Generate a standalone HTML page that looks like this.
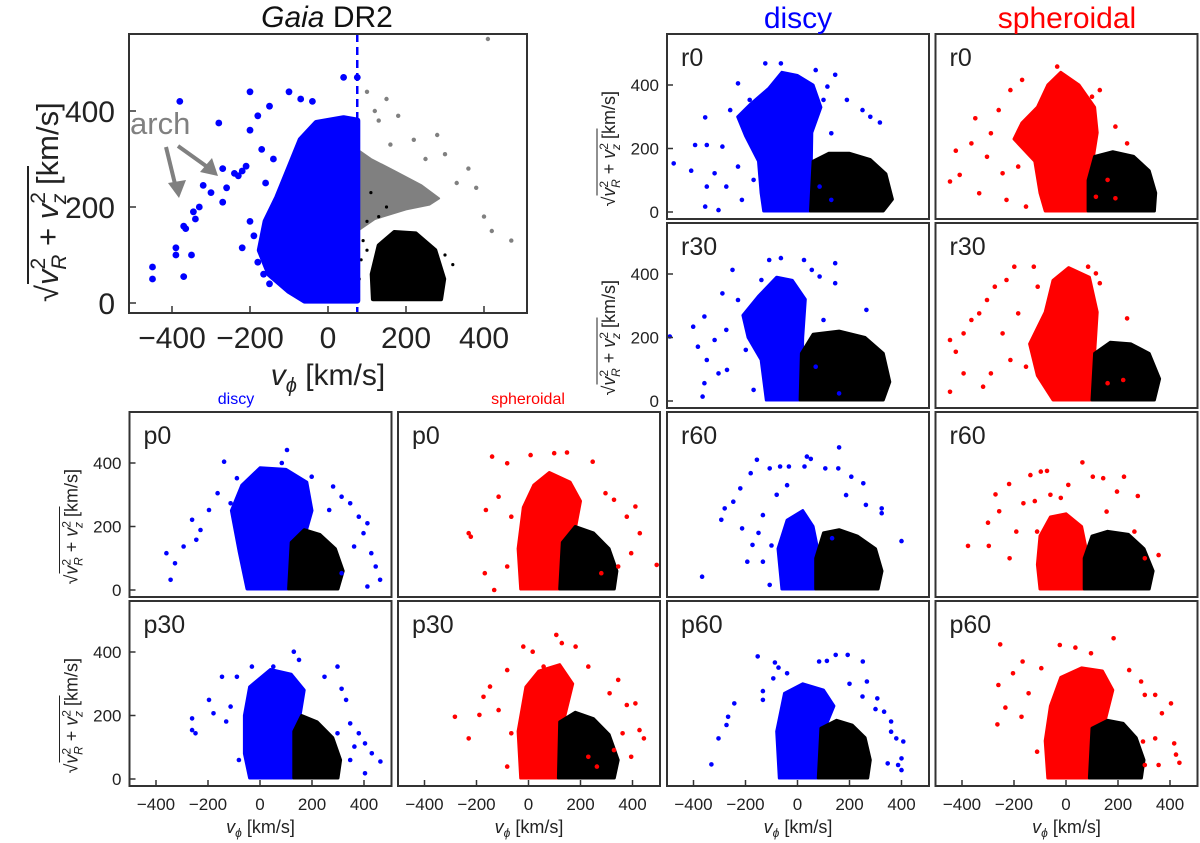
<!DOCTYPE html>
<html><head><meta charset="utf-8">
<style>
html,body{margin:0;padding:0;background:#fff;}
svg{display:block;font-family:"Liberation Sans",sans-serif;}
</style></head>
<body>
<svg id="fig" width="1200" height="843" viewBox="0 0 1200 843">
  <g id="marks"></g>
  <g id="frames"></g>
  <text x="327" y="27" font-size="30" text-anchor="middle" fill="#111"><tspan font-style="italic">Gaia</tspan> DR2</text>
  <text x="798" y="28" font-size="30" text-anchor="middle" fill="#0000ff">discy</text>
  <text x="1067" y="28" font-size="30" text-anchor="middle" fill="#ff0000">spheroidal</text>
  <text x="236" y="404" font-size="16" text-anchor="middle" fill="#0000ff">discy</text>
  <text x="528" y="404" font-size="16" text-anchor="middle" fill="#ff0000">spheroidal</text>
  <text x="130" y="134" font-size="31" fill="#808080">arch</text>
  <text x="328" y="385" font-size="30" text-anchor="middle" fill="#222"><tspan font-style="italic">v</tspan><tspan font-size="20" dy="7" font-style="italic">ϕ</tspan><tspan dy="-7"> [km/s]</tspan></text>
  <g transform="translate(58,302) rotate(-90)">
    <text x="0" y="0" font-size="31" fill="#222"><tspan>√</tspan><tspan font-style="italic">v</tspan><tspan font-size="21" dy="-13">2</tspan><tspan font-size="21" font-style="italic" dx="-12" dy="21">R</tspan><tspan dy="-8"> + </tspan><tspan font-style="italic">v</tspan><tspan font-size="21" dy="-13">2</tspan><tspan font-size="21" font-style="italic" dx="-12" dy="21">z</tspan><tspan dy="-8">  [km/s]</tspan></text>
    <line x1="18" y1="-30" x2="136" y2="-30" stroke="#222" stroke-width="2"/>
  </g>
</svg>
<script>
// ---------- data (vphi [km/s], sqrt(vR^2+vz^2) [km/s]) ----------
const xTicks = [-400, -200, 0, 200, 400];
const yTicks = [0, 200, 400];

const gaiaBlueCore = [[-60,5],[-100,25],[-150,60],[-175,110],[-160,170],[-130,220],[-100,280],[-70,340],[-30,375],[40,385],[75,380],[75,5]];
const gaiaGreyArc = [[75,150],[120,175],[200,195],[260,205],[285,218],[240,245],[170,275],[110,300],[75,320]];
const gaiaBlackCore = [[115,8],[290,8],[298,50],[275,110],[225,145],[170,148],[130,120],[112,60]];
const gaiaBlackSparse = [[110,230],[150,200],[100,170],[90,130],[85,90],[80,50],[60,10],[300,100],[320,80],[130,180],[100,110]];
const gaiaGreyPts = [[100,440],[150,425],[120,400],[130,380],[180,390],[160,330],[220,340],[280,350],[300,310],[360,280],[380,240],[400,180],[420,150],[470,130],[410,550],[330,250],[250,300]];
const gaiaBluePts = [[-450,75],[-450,50],[-390,115],[-390,100],[-370,160],[-365,155],[-345,190],[-340,175],[-330,200],[-320,245],[-300,230],[-270,210],[-260,240],[-270,280],[-240,270],[-220,275],[-210,285],[-230,265],[-280,375],[-200,440],[-170,320],[-180,390],[-150,410],[-100,440],[-70,425],[-40,420],[40,470],[75,470],[-370,55],[-380,420],[-350,100],[-200,170],[-190,140],[-180,85],[-220,115],[-160,250],[-140,300],[-200,360],[-165,60],[-150,40]];

const r0DiscyCore = [[-130,3],[50,3],[55,250],[90,330],[60,400],[0,430],[-60,440],[-110,390],[-180,340],[-230,300],[-200,240],[-150,160],[-140,60]];
const r0DiscyBlack = [[50,3],[330,3],[365,40],[340,120],[280,165],[200,185],[120,185],[60,160]];
const r0DiscyPts = [[-476,153],[-409,130],[-394,211],[-355,298],[-349,211],[-355,17],[-304,6],[-349,80],[-319,122],[-289,206],[-259,321],[-274,80],[-229,143],[-214,38],[-199,269],[-184,353],[-169,101],[-229,405],[-124,468],[-64,468],[70,447],[145,432],[100,353],[190,353],[250,321],[317,282],[280,300],[115,395],[130,248],[85,80],[130,38]];

const r0SphCore = [[-80,3],[90,3],[95,120],[120,250],[110,330],[50,400],[-20,440],[-70,400],[-110,330],[-170,280],[-200,230],[-120,160],[-100,60]];
const r0SphBlack = [[85,3],[340,3],[345,60],[320,130],[260,175],[180,190],[110,175],[85,100]];
const r0SphPts = [[-446,96],[-424,193],[-409,117],[-364,216],[-349,295],[-334,59],[-304,174],[-289,248],[-259,321],[-229,38],[-214,384],[-184,143],[-154,17],[-244,122],[-169,416],[-34,458],[100,363],[130,384],[190,269],[235,216],[115,48],[160,101],[190,43]];

const r30DiscyCore = [[-120,3],[15,3],[20,200],[30,320],[-20,380],[-80,390],[-150,330],[-210,270],[-190,200],[-140,130]];
const r30DiscyBlack = [[10,3],[330,3],[355,60],[330,150],[260,200],[160,220],[60,210],[15,150]];
const r30DiscyPts = [[-491,203],[-401,234],[-383,171],[-365,14],[-358,56],[-349,129],[-358,266],[-319,192],[-289,339],[-304,87],[-274,224],[-271,98],[-250,413],[-229,318],[-199,161],[-169,255],[-169,35],[-139,381],[-109,444],[-64,450],[25,444],[55,413],[85,392],[145,434],[145,371],[265,287],[100,255],[70,108],[160,24]];

const r30SphCore = [[-50,3],[100,3],[110,150],[120,280],[90,390],[10,420],[-50,380],[-80,280],[-140,180],[-110,80]];
const r30SphBlack = [[100,3],[340,3],[360,70],[320,150],[250,180],[170,185],[110,150]];
const r30SphPts = [[-446,29],[-446,192],[-424,155],[-394,213],[-394,87],[-364,255],[-334,276],[-319,45],[-304,318],[-289,87],[-274,360],[-244,213],[-229,381],[-214,129],[-199,423],[-184,276],[-154,108],[-124,423],[-109,360],[85,423],[115,402],[130,371],[235,260],[220,66],[160,56],[70,150]];

const p0DiscyCore = [[-50,3],[160,3],[165,150],[200,250],[180,340],[100,380],[0,385],[-70,330],[-110,250],[-80,120]];
const p0DiscyBlack = [[110,3],[300,3],[320,60],[290,130],[230,175],[170,190],[120,150]];
const p0DiscyPts = [[-360,116],[-344,32],[-327,84],[-294,137],[-245,158],[-229,189],[-261,221],[-196,252],[-138,404],[-163,305],[-89,352],[-113,273],[-81,179],[-48,95],[104,441],[84,400],[199,357],[281,326],[314,294],[347,273],[413,210],[398,179],[428,116],[445,74],[462,32],[413,11],[362,137],[380,231],[266,252],[314,53]];

const p0SphCore = [[-30,3],[140,3],[170,150],[200,280],[160,340],[80,370],[20,330],[-20,260],[-40,130]];
const p0SphBlack = [[120,3],[330,3],[340,60],[310,130],[250,180],[180,200],[130,150]];
const p0SphPts = [[-230,179],[-222,168],[-168,53],[-164,252],[-132,0],[-140,420],[-115,294],[-82,399],[-66,231],[-82,74],[8,425],[99,431],[148,433],[247,404],[296,305],[329,284],[378,231],[428,179],[411,263],[395,116],[345,74],[493,79],[280,53]];

const p30DiscyCore = [[-40,3],[140,3],[150,180],[170,280],[120,330],[40,345],[-40,290],[-60,200],[-60,80]];
const p30DiscyBlack = [[130,3],[300,3],[310,60],[280,130],[220,180],[160,200],[130,150]];
const p30DiscyPts = [[-261,191],[-261,154],[-248,144],[-196,249],[-179,207],[-146,322],[-130,181],[-89,322],[-113,228],[-81,60],[-31,354],[51,354],[130,401],[150,375],[248,322],[298,354],[314,284],[331,249],[347,175],[380,144],[404,112],[430,81],[463,55],[404,18],[347,60],[363,102],[298,144]];

const p30SphCore = [[-30,3],[115,3],[140,200],[170,300],[120,360],[40,340],[-10,290],[-40,150]];
const p30SphBlack = [[115,3],[330,3],[345,60],[310,140],[250,190],[180,210],[120,180]];
const p30SphPts = [[-283,196],[-230,128],[-189,202],[-173,259],[-148,291],[-115,217],[-82,343],[-66,144],[-82,39],[-20,417],[16,401],[58,354],[107,454],[128,428],[181,417],[230,354],[345,312],[312,270],[378,233],[411,238],[362,144],[427,154],[444,128],[395,70],[329,91],[263,39],[230,70]];

const r60DiscyCore = [[-60,3],[80,3],[85,100],[60,200],[20,250],[-40,220],[-75,130]];
const r60DiscyBlack = [[70,3],[310,3],[325,60],[300,130],[230,170],[160,190],[100,180],[70,100]];
const r60DiscyPts = [[-367,42],[-293,221],[-280,257],[-247,278],[-220,320],[-180,368],[-156,410],[-193,89],[-173,142],[-133,236],[-107,383],[-67,389],[-33,389],[36,420],[51,413],[27,389],[107,383],[157,383],[160,449],[207,357],[253,336],[263,268],[324,257],[324,242],[400,154],[187,299],[-107,16],[-213,194],[-133,89],[133,163],[-80,300],[-40,330],[-150,180],[-100,140]];

const r60SphCore = [[-100,3],[75,3],[80,120],[60,200],[0,240],[-60,230],[-100,170],[-110,80]];
const r60SphBlack = [[70,3],[320,3],[335,60],[300,130],[240,175],[160,185],[100,170],[70,100]];
const r60SphPts = [[-377,139],[-300,212],[-297,139],[-271,301],[-257,248],[-219,334],[-217,100],[-191,184],[-164,273],[-137,362],[-97,373],[-73,375],[-111,184],[9,331],[63,402],[103,357],[143,352],[223,357],[276,296],[196,310],[263,184],[356,110],[303,100],[156,247],[-120,280],[-60,300],[-20,290]];

const p60DiscyCore = [[-70,3],[90,3],[100,150],[140,230],[100,280],[20,300],[-50,270],[-80,150]];
const p60DiscyBlack = [[80,3],[270,3],[280,60],[260,130],[210,170],[150,185],[90,160]];
const p60DiscyPts = [[-331,46],[-304,128],[-273,170],[-267,196],[-243,238],[-153,386],[-133,277],[-133,249],[-93,317],[-87,367],[-73,351],[-40,333],[83,370],[113,372],[147,391],[193,391],[251,370],[267,307],[307,254],[333,212],[360,181],[380,128],[407,118],[400,65],[400,28],[387,44],[347,49],[360,149],[200,300],[250,260],[300,220]];

const p60SphCore = [[-70,3],[130,3],[140,150],[180,280],[140,340],[60,350],[-20,320],[-60,230],[-80,120]];
const p60SphBlack = [[90,3],[290,3],[300,60],[270,130],[220,175],[160,185],[100,160]];
const p60SphPts = [[-264,172],[-253,424],[-260,296],[-233,225],[-204,333],[-171,196],[-167,370],[-144,270],[-111,86],[-95,349],[-24,422],[36,414],[96,396],[183,443],[243,343],[289,307],[303,265],[343,265],[369,207],[404,238],[343,128],[356,44],[416,112],[423,77],[436,51],[296,118],[303,44]];

// ---------- drawing ----------
const NS = 'http://www.w3.org/2000/svg';
const svg = document.getElementById('fig');
const marks = document.getElementById('marks');
const frames = document.getElementById('frames');
function mk(tag, attrs, parent){ const e=document.createElementNS(NS,tag); for(const k in attrs) e.setAttribute(k,attrs[k]); parent.appendChild(e); return e; }

const BG = {x0:129, x1:527, y0:34, y1:313};
const bx = v => 328 + v*0.39;
const by = v => 303 - v*0.48;

const defs = mk('defs',{},svg);
const cp = mk('clipPath',{id:'clip-big'},defs);
mk('rect',{x:BG.x0,y:BG.y0,width:BG.x1-BG.x0,height:BG.y1-BG.y0},cp);

const gBig = mk('g',{'clip-path':'url(#clip-big)'},marks);



function poly(arr, fx, fy, color, g, sw){
  const ptsStr = arr.map(d=>fx(d[0]).toFixed(1)+','+fy(d[1]).toFixed(1)).join(' ');
  return mk('polygon',{points:ptsStr,fill:color,stroke:color,'stroke-width':sw,'stroke-linejoin':'round'},g);
}
function pts(arr, fx, fy, color, r, g){
  arr.forEach(d=>{
    const c = mk('circle',{cx:fx(d[0]).toFixed(1),cy:fy(d[1]).toFixed(1),r:r,fill:color},g);
    
    
  });
}
let e;
e = poly(gaiaGreyArc,bx,by,'#808080',gBig,2);


e = poly(gaiaBlackCore,bx,by,'#000',gBig,4);


pts(gaiaBlackSparse,bx,by,'#000',1.6,gBig);
pts(gaiaGreyPts,bx,by,'#808080',2.2,gBig);
e = poly(gaiaBlueCore,bx,by,'#0000ff',gBig,6);


pts(gaiaBluePts,bx,by,'#0000ff',3.4,gBig);

e = mk('line',{x1:bx(75),x2:bx(75),y1:BG.y0,y2:BG.y1,stroke:'#0000ff','stroke-width':2.5,'stroke-dasharray':'8,5'},marks);



const arr = mk('g',{stroke:'#808080','stroke-width':4,fill:'#808080'},marks);


mk('line',{x1:166,y1:147,x2:175,y2:184},arr);
mk('polygon',{points:'168,183 186,180 179,198',stroke:'none'},arr);
mk('line',{x1:178,y1:146,x2:206,y2:166},arr);
mk('polygon',{points:'200,172 212,158 218,176',stroke:'none'},arr);

e = mk('rect',{x:BG.x0,y:BG.y0,width:BG.x1-BG.x0,height:BG.y1-BG.y0,fill:'none',stroke:'#333','stroke-width':2},frames);


xTicks.forEach(t=>{
  mk('line',{x1:bx(t),x2:bx(t),y1:BG.y1,y2:BG.y1-7,stroke:'#333','stroke-width':1.5},frames);
  const tx = mk('text',{x:bx(t),y:348,'font-size':30,'text-anchor':'middle',fill:'#222'},frames);
  tx.textContent = t<0 ? '\u2212'+(-t) : String(t);
  
  
});
yTicks.forEach(t=>{
  mk('line',{x1:BG.x0,x2:BG.x0+7,y1:by(t),y2:by(t),stroke:'#333','stroke-width':1.5},frames);
  const tx = mk('text',{x:115,y:by(t)+11,'font-size':30,'text-anchor':'end',fill:'#222'},frames);
  tx.textContent = String(t);
  
  
});

const colL = [129.5, 398, 667, 935.5];
const rowT = [34, 223, 412, 601];
const PW = 262, PH = 185;
const panels = [
  {r:0,c:2,label:'r0',core:r0DiscyCore,black:r0DiscyBlack,pts:r0DiscyPts,col:'#0000ff'},
  {r:0,c:3,label:'r0',core:r0SphCore,black:r0SphBlack,pts:r0SphPts,col:'#ff0000'},
  {r:1,c:2,label:'r30',core:r30DiscyCore,black:r30DiscyBlack,pts:r30DiscyPts,col:'#0000ff'},
  {r:1,c:3,label:'r30',core:r30SphCore,black:r30SphBlack,pts:r30SphPts,col:'#ff0000'},
  {r:2,c:0,label:'p0',core:p0DiscyCore,black:p0DiscyBlack,pts:p0DiscyPts,col:'#0000ff'},
  {r:2,c:1,label:'p0',core:p0SphCore,black:p0SphBlack,pts:p0SphPts,col:'#ff0000'},
  {r:2,c:2,label:'r60',core:r60DiscyCore,black:r60DiscyBlack,pts:r60DiscyPts,col:'#0000ff'},
  {r:2,c:3,label:'r60',core:r60SphCore,black:r60SphBlack,pts:r60SphPts,col:'#ff0000'},
  {r:3,c:0,label:'p30',core:p30DiscyCore,black:p30DiscyBlack,pts:p30DiscyPts,col:'#0000ff'},
  {r:3,c:1,label:'p30',core:p30SphCore,black:p30SphBlack,pts:p30SphPts,col:'#ff0000'},
  {r:3,c:2,label:'p60',core:p60DiscyCore,black:p60DiscyBlack,pts:p60DiscyPts,col:'#0000ff'},
  {r:3,c:3,label:'p60',core:p60SphCore,black:p60SphBlack,pts:p60SphPts,col:'#ff0000'}
];
const yLabelPanels = [[2,0],[3,0],[0,2],[1,2]];
panels.forEach((p,i)=>{
  const L = colL[p.c], T = rowT[p.r];
  const fx = v => L + 130.5 + v*0.26;
  const fy = v => T + 178 - v*0.3175;
  const id = 'clip-'+i;
  const c = mk('clipPath',{id:id},defs);
  mk('rect',{x:L,y:T,width:PW,height:PH},c);
  const g = mk('g',{'clip-path':'url(#'+id+')'},marks);
  
  
  let q = poly(p.core,fx,fy,p.col,g,3);
  
  
  q = poly(p.black,fx,fy,'#000',g,3);
  
  
  pts(p.pts,fx,fy,p.col,2.3,g);
  const f = mk('rect',{x:L,y:T,width:PW,height:PH,fill:'none',stroke:'#333','stroke-width':2},frames);
  
  
  const lt = mk('text',{x:L+14,y:T+32,'font-size':25,fill:'#222'},frames);
  lt.textContent = p.label;
  
  
  if(p.r===3){
    xTicks.forEach(t=>{
      mk('line',{x1:fx(t),x2:fx(t),y1:T+PH,y2:T+PH-6,stroke:'#333','stroke-width':1.5},frames);
      const tx = mk('text',{x:fx(t),y:T+PH+24,'font-size':17,'text-anchor':'middle',fill:'#222'},frames);
      tx.textContent = t<0 ? '\u2212'+(-t) : String(t);
      
      
    });
    const xl = mk('text',{x:L+PW/2,y:833,'font-size':18,'text-anchor':'middle',fill:'#222'},frames);
    xl.innerHTML = '<tspan font-style="italic">v</tspan><tspan font-size="12" dy="4" font-style="italic">ϕ</tspan><tspan dy="-4"> [km/s]</tspan>';
    
    
  }
  if(yLabelPanels.some(a=>a[0]===p.r&&a[1]===p.c)){
    yTicks.forEach(t=>{
      mk('line',{x1:L,x2:L+6,y1:fy(t),y2:fy(t),stroke:'#333','stroke-width':1.5},frames);
      const tx = mk('text',{x:L-8,y:fy(t)+6,'font-size':17,'text-anchor':'end',fill:'#222'},frames);
      tx.textContent = String(t);
      
      
    });
    const yg = mk('g',{transform:'translate('+(L-52)+','+(T+PH/2+80)+') rotate(-90)'},frames);
    
    
    const yt = mk('text',{x:0,y:0,'font-size':18,fill:'#222'},yg);
    yt.innerHTML = '<tspan>√</tspan><tspan font-style="italic">v</tspan><tspan font-size="12" dy="-7">2</tspan><tspan font-size="12" font-style="italic" dx="-7" dy="12">R</tspan><tspan dy="-5"> + </tspan><tspan font-style="italic">v</tspan><tspan font-size="12" dy="-7">2</tspan><tspan font-size="12" font-style="italic" dx="-7" dy="12">z</tspan><tspan dy="-5"> [km/s]</tspan>';
    mk('line',{x1:11,y1:-18,x2:78,y2:-18,stroke:'#222','stroke-width':1},yg);
  }
});
</script>
</body></html>
